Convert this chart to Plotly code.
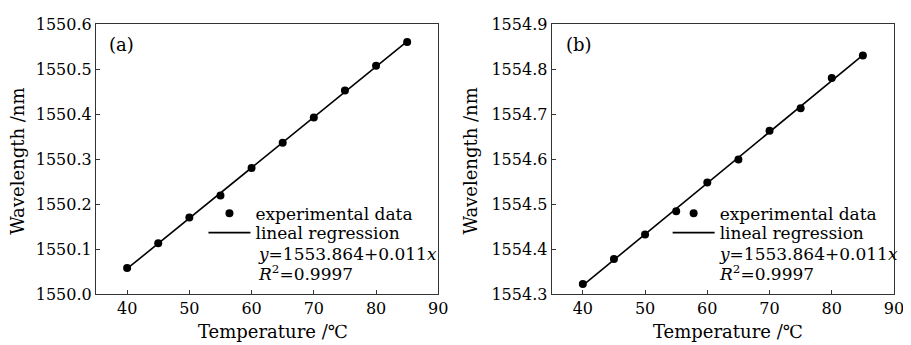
import numpy as np
import plotly.graph_objects as go

temperature = [40, 45, 50, 55, 60, 65, 70, 75, 80, 85]
wavelength_a = [1550.058, 1550.113, 1550.170, 1550.219, 1550.280, 1550.336, 1550.392, 1550.452, 1550.507, 1550.560]
wavelength_b = [1554.322, 1554.378, 1554.432, 1554.484, 1554.548, 1554.599, 1554.663, 1554.713, 1554.780, 1554.830]
x_ticks = [40, 50, 60, 70, 80, 90]
y_ticks_a = [1550.0, 1550.1, 1550.2, 1550.3, 1550.4, 1550.5, 1550.6]
y_ticks_b = [1554.3, 1554.4, 1554.5, 1554.6, 1554.7, 1554.8, 1554.9]
panel_labels = ["(a)", "(b)"]
legend_names = ["experimental data", "lineal regression"]
equation_text = "<i>y</i>=1553.864+0.011<i>x</i>"
r2_text = "<i>R</i><sup>2</sup>=0.9997"
x_title = "Temperature /℃"
y_title = "Wavelength /nm"

FONT = "DejaVu Serif"
OFF = 8                       # default page body margin
W, H = 911 - OFF, 345 - OFF
L, R, T, B = 96 - OFF, 13, 15 - OFF, 51
PW = W - L - R
PH = H - T - B


def px(xw):
    # window pixel x -> paper x
    return (xw - OFF - L) / PW


def py(yw):
    # window pixel y -> paper y
    return (H - B - (yw - OFF)) / PH


fig = go.Figure()

panels = [
    dict(y=wavelength_a, xa="x", ya="y", lg=("legend", "legend3"), yt=y_ticks_a),
    dict(y=wavelength_b, xa="x2", ya="y2", lg=("legend2", "legend4"), yt=y_ticks_b),
]

for p in panels:
    t = np.array(temperature, dtype=float)
    coef = np.polyfit(t, np.array(p["y"]), 1)
    fit = np.polyval(coef, t)
    fig.add_trace(go.Scatter(
        x=temperature, y=p["y"], mode="markers", name=legend_names[0],
        marker=dict(color="black", size=8), xaxis=p["xa"], yaxis=p["ya"],
        legend=p["lg"][0]))
    fig.add_trace(go.Scatter(
        x=t, y=fit, mode="lines", name=legend_names[1],
        line=dict(color="black", width=1.6), xaxis=p["xa"], yaxis=p["ya"],
        legend=p["lg"][1]))

axis_common = dict(
    showline=True, linecolor="#333", linewidth=1.2, mirror=True,
    ticks="inside", ticklen=4, tickcolor="#333", tickwidth=1,
    showgrid=False, zeroline=False, ticklabeloverflow="allow",
    tickfont=dict(family=FONT, size=16, color="black"),
)


def leg(xw, yw):
    return dict(x=px(xw), y=py(yw), xanchor="left", yanchor="middle",
                bgcolor="rgba(0,0,0,0)", borderwidth=0,
                font=dict(family=FONT, size=17, color="black"),
                itemwidth=42)


def yaxis(ticks, **kw):
    return dict(range=[ticks[0], ticks[-1]], tickmode="array", tickvals=ticks,
                ticktext=[f"{v:.1f}" for v in ticks], **kw, **axis_common)


def xaxis(dom, **kw):
    return dict(domain=dom, range=[35, 90], tickmode="array", tickvals=x_ticks,
                ticktext=[str(v) for v in x_ticks], **kw, **axis_common)


fig.update_layout(
    width=W, height=H,
    margin=dict(l=L, r=R, t=T, b=B),
    plot_bgcolor="white", paper_bgcolor="white",
    font=dict(family=FONT, size=16, color="black"),
    xaxis=xaxis([0, (440 - 96) / 802]),
    xaxis2=xaxis([(554 - 96) / 802, 1], anchor="y2"),
    yaxis=yaxis(y_ticks_a),
    yaxis2=yaxis(y_ticks_b, anchor="x2"),
    legend=leg(204, 211),
    legend3=leg(204, 231),
    legend2=leg(670.5, 211),
    legend4=leg(670.5, 231),
    showlegend=True,
)

ann = []
for i, (xl, xt, xeq, xyt) in enumerate([(107, 274, 257, 17), (566, 731, 720, 472)]):
    ann.append(dict(text=panel_labels[i], x=px(xl), y=py(36), xref="paper", yref="paper",
                    xanchor="left", yanchor="middle", showarrow=False, font=dict(size=18)))
    ann.append(dict(text=x_title, x=px(xt), y=py(333), xref="paper", yref="paper",
                    xanchor="center", yanchor="middle", showarrow=False, font=dict(size=18)))
    ann.append(dict(text=y_title, x=px(xyt), y=py(157), xref="paper", yref="paper",
                    xanchor="center", yanchor="middle", textangle=-90, showarrow=False,
                    font=dict(size=18)))
    ann.append(dict(text=equation_text, x=px(xeq), y=py(253), xref="paper", yref="paper",
                    xanchor="left", yanchor="middle", showarrow=False, font=dict(size=17)))
    ann.append(dict(text=r2_text, x=px(xeq), y=py(272), xref="paper", yref="paper",
                    xanchor="left", yanchor="middle", showarrow=False, font=dict(size=17)))
fig.update_layout(annotations=ann)

fig.write_html("out.html")
